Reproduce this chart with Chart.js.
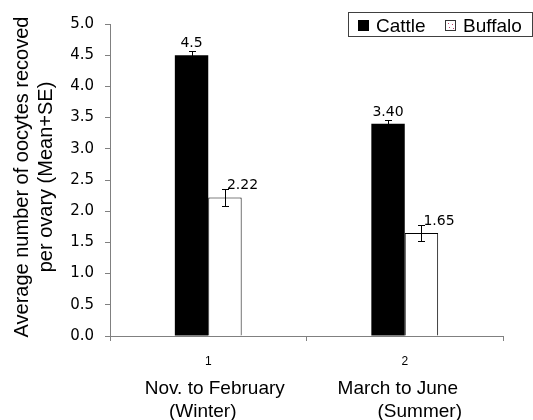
<!DOCTYPE html>
<html>
<head>
<meta charset="utf-8">
<script src="https://cdn.jsdelivr.net/npm/chart.js@4.4.1/dist/chart.umd.min.js"></script>
<style>
  html, body { margin: 0; padding: 0; background: #fff; }
  #wrap { width: 533px; height: 420px; }
</style>
</head>
<body>
<div id="wrap"><canvas id="oocyteChart" width="533" height="420"></canvas></div>
<script>
const categories = ['1', '2'];
const periodLabels = ['Nov. to February', 'March to June'];
const seasonLabels = ['(Winter)', '(Summer)'];
const cattleMeans = [4.5, 3.40];
const buffaloMeans = [2.22, 1.65];
const cattleSE = [0.07, 0.06];
const buffaloSE = [0.13, 0.13];
const cattleText = ['4.5', '3.40'];
const buffaloText = ['2.22', '1.65'];
const yTitle = ['Average number of oocytes recoved', 'per ovary (Mean+SE)'];

const axisGray = '#808080';

// error bars + value labels on top of each bar
const errorBarPlugin = {
  id: 'errorBars',
  afterDatasetsDraw(chart) {
    const ctx = chart.ctx;
    const y = chart.scales.y;
    const seList = [cattleSE, buffaloSE];
    const textList = [cattleText, buffaloText];
    ctx.save();
    ctx.strokeStyle = '#000';
    ctx.lineWidth = 1;
    chart.data.datasets.forEach((ds, di) => {
      const meta = chart.getDatasetMeta(di);
      meta.data.forEach((bar, i) => {
        const v = ds.data[i];
        const se = seList[di][i];
        const x = Math.round(bar.x) + 0.5;
        const top = Math.round(y.getPixelForValue(v + se)) + 0.5;
        const bot = Math.round(y.getPixelForValue(v - se)) + 0.5;
        ctx.beginPath();
        ctx.moveTo(x, top); ctx.lineTo(x, bot);
        ctx.moveTo(x - 3.5, top); ctx.lineTo(x + 3.5, top);
        ctx.moveTo(x - 3.5, bot); ctx.lineTo(x + 3.5, bot);
        ctx.stroke();

        ctx.fillStyle = '#000';
        ctx.font = '14px "DejaVu Sans"';
        ctx.textBaseline = 'alphabetic';
        if (di === 0) {
          ctx.textAlign = 'center';
          ctx.fillText(textList[di][i], bar.x, top - 5);
        } else {
          ctx.textAlign = 'left';
          ctx.fillText(textList[di][i], bar.x + 2, top - 1);
        }
      });
    });
    ctx.restore();
  }
};

// season names under the numeric x ticks, rotated y title, boxed legend
const extraTextPlugin = {
  id: 'extraText',
  afterDraw(chart) {
    const ctx = chart.ctx;
    const x = chart.scales.x;
    const line1Shift = [6.5, -7];
    const line2Shift = [-5.5, 15];
    ctx.save();
    ctx.fillStyle = '#000';
    ctx.font = '19px "Liberation Sans", Arial, sans-serif';
    ctx.textAlign = 'center';
    ctx.textBaseline = 'alphabetic';
    categories.forEach((c, i) => {
      const cx = x.getPixelForValue(i);
      ctx.fillText(periodLabels[i], cx + line1Shift[i], 394);
      ctx.fillText(seasonLabels[i], cx + line2Shift[i], 417);
    });

    // y axis title
    ctx.save();
    ctx.font = '20px "Liberation Sans", Arial, sans-serif';
    ctx.translate(28, 177);
    ctx.rotate(-Math.PI / 2);
    ctx.fillText(yTitle[0], 0, 0);
    ctx.fillText(yTitle[1], 0, 24);
    ctx.restore();

    // legend
    ctx.strokeStyle = '#404040';
    ctx.lineWidth = 1;
    ctx.strokeRect(348.5, 12.5, 184, 24);
    const ds = chart.data.datasets;
    ctx.fillStyle = '#000';
    ctx.fillRect(358, 20, 11, 11);
    ctx.fillStyle = '#fff';
    ctx.fillRect(445, 20, 11, 11);
    ctx.strokeStyle = '#333';
    ctx.strokeRect(445.5, 20.5, 10, 10);
    ctx.fillStyle = '#c04070';
    [[448, 23], [452, 24], [449, 27], [453, 28]].forEach(p => ctx.fillRect(p[0], p[1], 1, 1));
    ctx.fillStyle = '#000';
    ctx.font = '19px "Liberation Sans", Arial, sans-serif';
    ctx.textAlign = 'left';
    ctx.fillText(ds[0].label, 376, 32);
    ctx.fillText(ds[1].label, 463, 32);
    ctx.restore();
  }
};

function createOocyteChart() {
  const ctx = document.getElementById('oocyteChart');
  return new Chart(ctx, {
    type: 'bar',
    data: {
      labels: categories,
      datasets: [
        {
          label: 'Cattle',
          data: cattleMeans,
          backgroundColor: '#000',
          borderColor: '#000',
          borderWidth: 0,
          categoryPercentage: 0.34,
          barPercentage: 1.0
        },
        {
          label: 'Buffalo',
          data: buffaloMeans,
          backgroundColor: '#fff',
          borderColor: '#000',
          borderWidth: 1,
          categoryPercentage: 0.34,
          barPercentage: 1.0
        }
      ]
    },
    options: {
      responsive: false,
      animation: false,
      devicePixelRatio: 1,
      layout: { padding: { left: 0, right: 30, top: 24, bottom: 0 } },
      plugins: {
        legend: { display: false },
        tooltip: { enabled: false }
      },
      scales: {
        x: {
          offset: true,
          border: { color: axisGray, width: 1 },
          grid: { offset: true, drawOnChartArea: false, drawTicks: true, tickLength: 5, color: axisGray },
          ticks: { color: '#000', padding: 13, font: { family: '"Liberation Sans", Arial', size: 12 } },
          afterFit(scale) { scale.height = 84; }
        },
        y: {
          min: 0,
          max: 5,
          border: { color: axisGray, width: 1 },
          grid: { drawOnChartArea: false, drawTicks: true, tickLength: 5, color: axisGray },
          ticks: {
            stepSize: 0.5,
            color: '#000',
            padding: 11,
            font: { family: '"DejaVu Sans"', size: 15 },
            callback: v => v.toFixed(1)
          },
          afterFit(scale) { scale.width = 110; }
        }
      }
    },
    plugins: [errorBarPlugin, extraTextPlugin]
  });
}

createOocyteChart();
</script>
</body>
</html>
